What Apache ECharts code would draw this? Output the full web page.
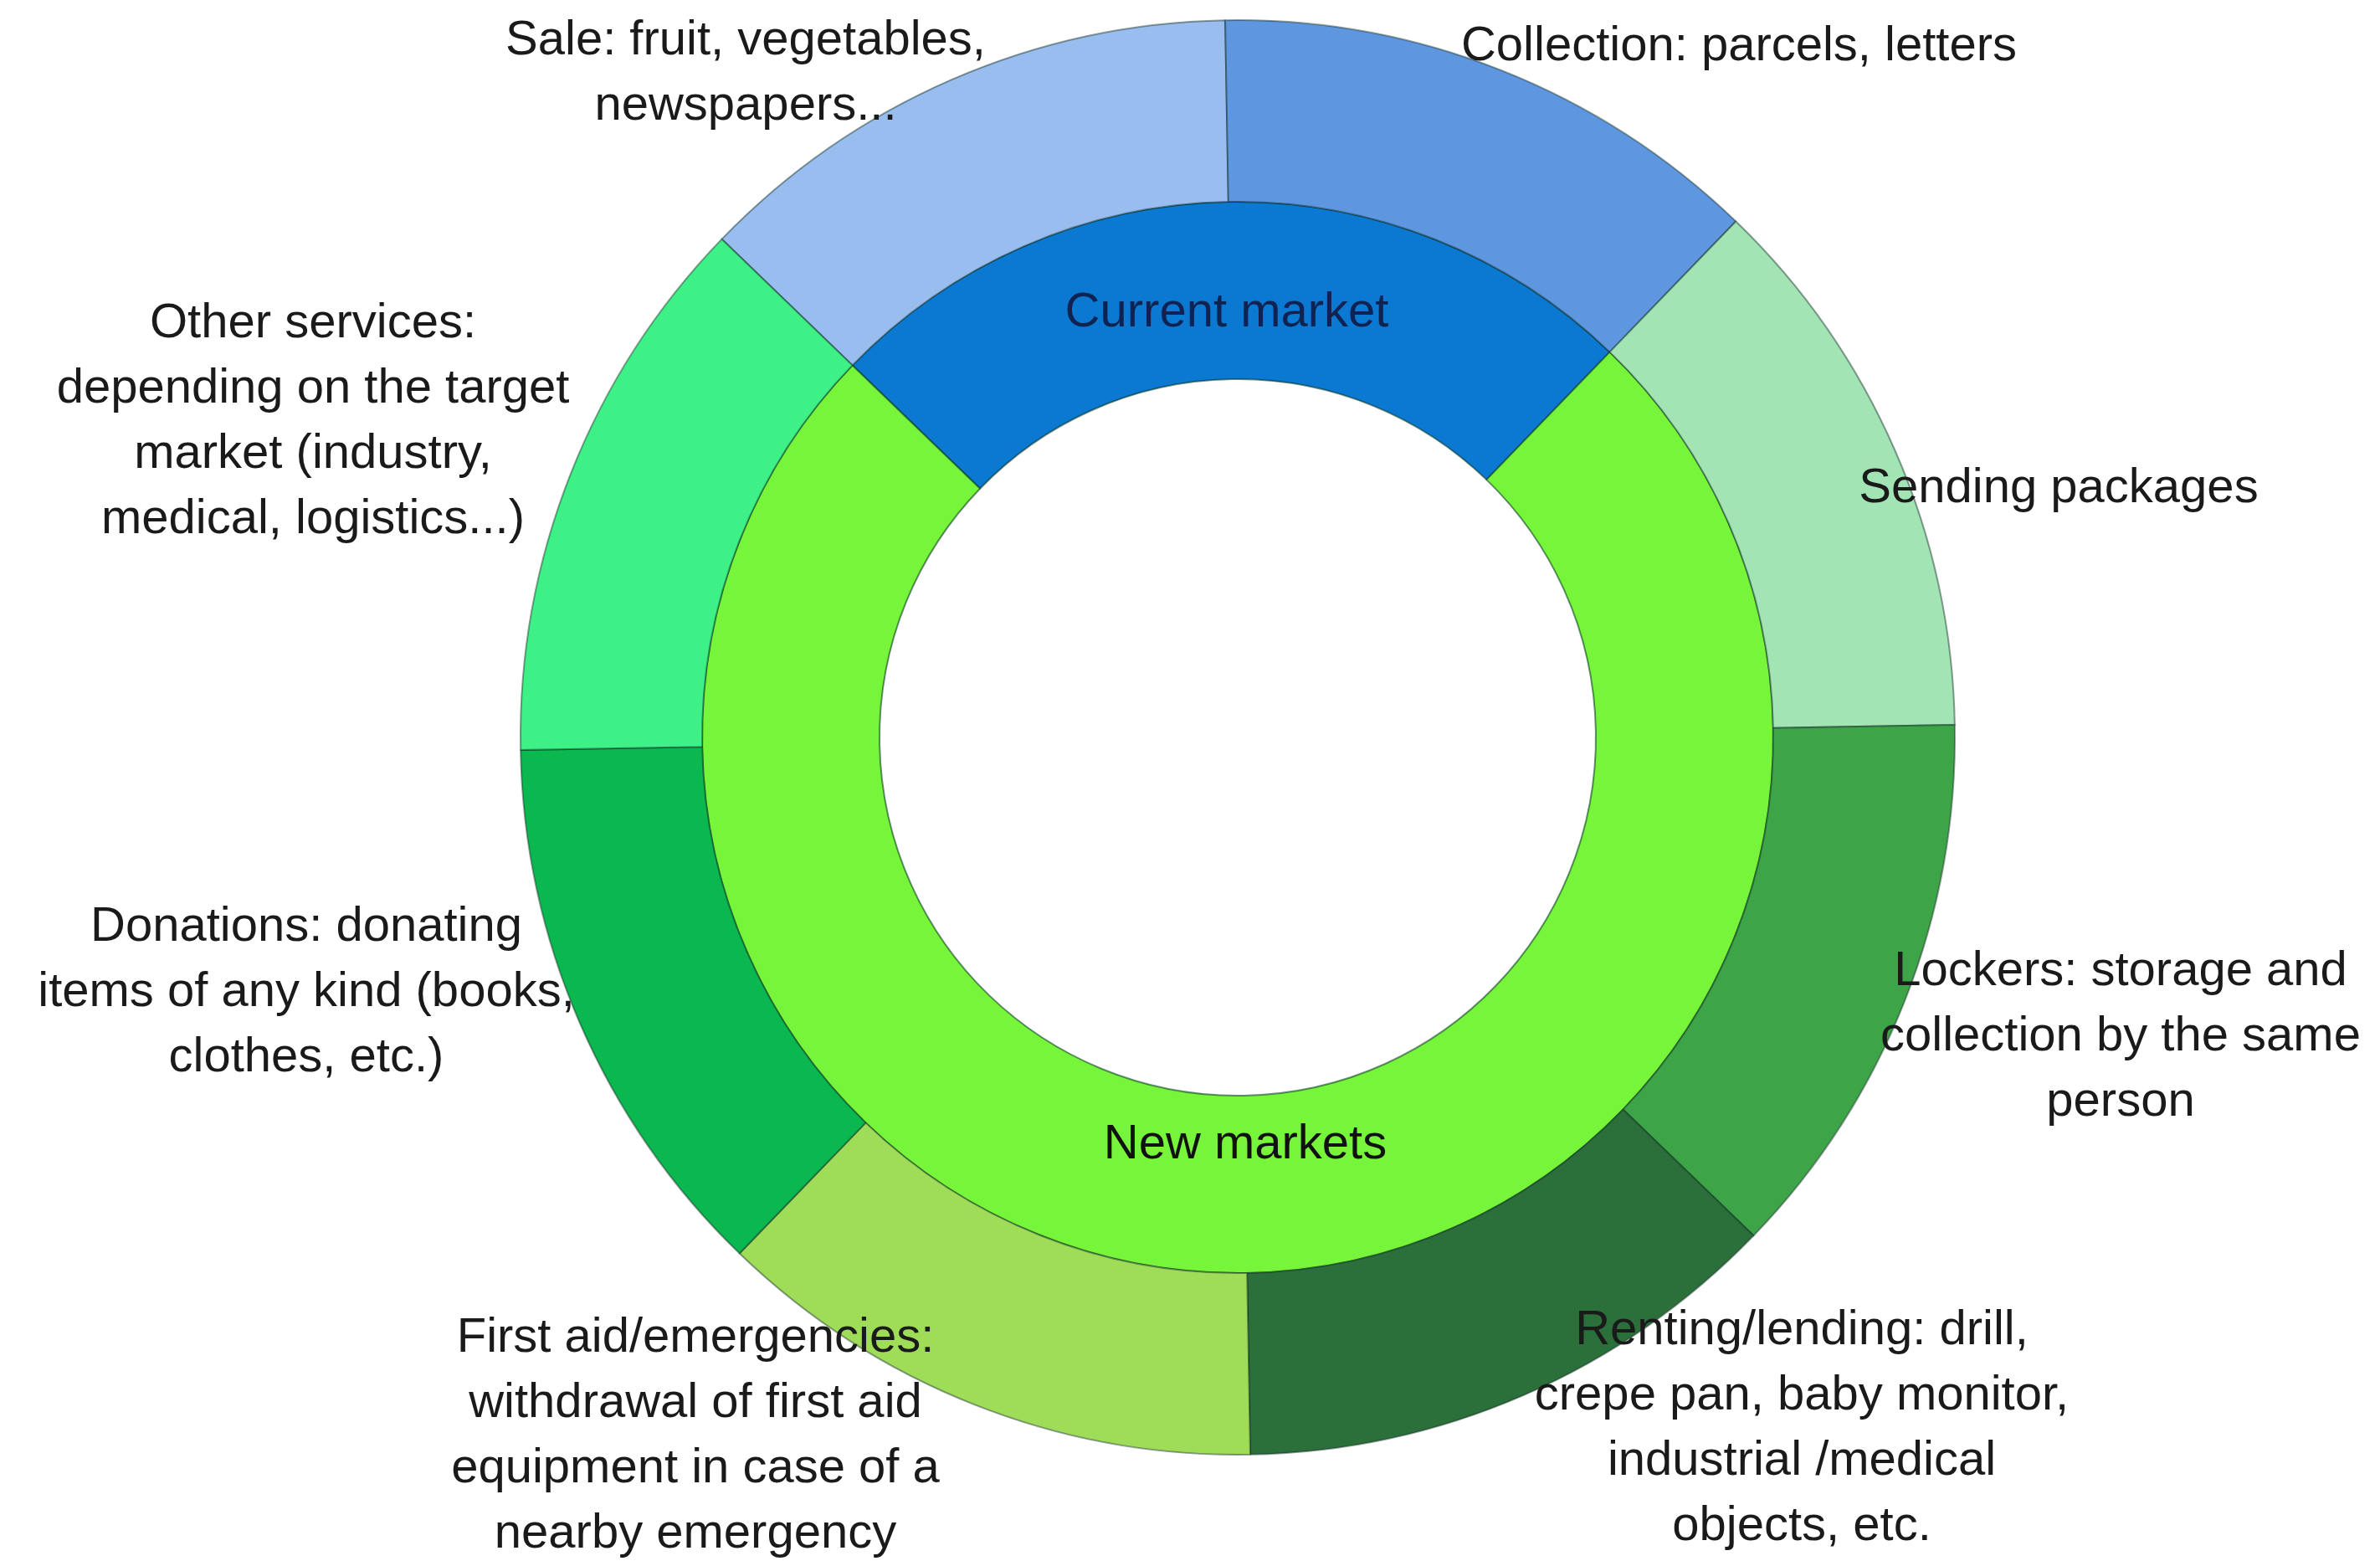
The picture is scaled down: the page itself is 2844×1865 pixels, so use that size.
<!DOCTYPE html>
<html>
<head>
<meta charset="utf-8">
<script src="https://cdn.jsdelivr.net/npm/echarts@6/dist/echarts.min.js"></script>
<style>
  html, body { margin: 0; padding: 0; background: #ffffff; }
  #chart { width: 2844px; height: 1865px; }
</style>
</head>
<body>
<div id="chart"></div>
<script>
// ---- data ----
const innerNames = ['Current market', 'New markets'];
const innerValues = [2, 6];
const innerColors = ['#0B78D1', '#77F53B'];
const innerTextColors = ['#0E2352', '#111111'];

const outerNames = [
  'Sale: fruit, vegetables,\nnewspapers...',
  'Collection: parcels, letters',
  'Sending packages',
  'Lockers: storage and\ncollection by the same\nperson',
  'Renting/lending: drill,\ncrepe pan, baby monitor,\nindustrial /medical\nobjects, etc.',
  'First aid/emergencies:\nwithdrawal of first aid\nequipment in case of a\nnearby emergency',
  'Donations: donating\nitems of any kind (books,\nclothes, etc.)',
  'Other services:\ndepending on the target\nmarket (industry,\nmedical, logistics...)'
];
const outerValues = [1, 1, 1, 1, 1, 1, 1, 1];
const outerColors = ['#99BDEE', '#5E96E0', '#A2E4B4', '#3DA548', '#2B703A', '#9FDD58', '#0BB74F', '#3EF187'];

// ---- label anchor points (layout, px) ----
const innerLabelPos = [[1466, 374], [1488, 1368]];
const outerLabelPos = [
  [891, 88], [2078, 56], [2460, 584], [2534, 1239],
  [2153, 1707], [831, 1716], [366, 1186], [374, 504]
];

const center = [1479, 881];
const font = "'Liberation Sans', Arial, sans-serif";

const chart = echarts.init(document.getElementById('chart'), null, { renderer: 'canvas' });

chart.setOption({
  backgroundColor: '#ffffff',
  animation: false,
  series: [
    {
      type: 'pie',
      name: 'markets',
      center: center,
      radius: [428, 640],
      startAngle: 136,
      clockwise: true,
      avoidLabelOverlap: false,
      silent: true,
      itemStyle: { borderColor: 'rgba(0,50,30,0.55)', borderWidth: 2 },
      label: {
        show: true,
        position: 'inside',
        fontFamily: font,
        fontSize: 58,
        lineHeight: 70
      },
      labelLine: { show: false },
      labelLayout: function (p) {
        const pos = innerLabelPos[p.dataIndex];
        return { x: pos[0], y: pos[1], align: 'center', verticalAlign: 'middle' };
      },
      data: innerNames.map((n, i) => ({
        name: n,
        value: innerValues[i],
        itemStyle: { color: innerColors[i] },
        label: { color: innerTextColors[i] }
      }))
    },
    {
      type: 'pie',
      name: 'services',
      center: center,
      radius: [640, 857],
      startAngle: 136,
      clockwise: true,
      avoidLabelOverlap: false,
      silent: true,
      itemStyle: { borderColor: 'rgba(10,40,30,0.45)', borderWidth: 2 },
      label: {
        show: true,
        position: 'outside',
        color: '#1a1a1a',
        fontFamily: font,
        fontSize: 58,
        lineHeight: 78,
        align: 'center'
      },
      labelLine: { show: false },
      labelLayout: function (p) {
        const pos = outerLabelPos[p.dataIndex];
        return { x: pos[0], y: pos[1], align: 'center', verticalAlign: 'middle' };
      },
      data: outerNames.map((n, i) => ({
        name: n,
        value: outerValues[i],
        itemStyle: { color: outerColors[i] }
      }))
    }
  ]
});
</script>
</body>
</html>
